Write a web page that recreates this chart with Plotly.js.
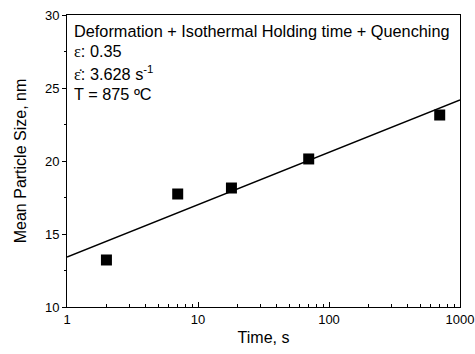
<!DOCTYPE html>
<html>
<head>
<meta charset="utf-8">
<script src="https://cdn.plot.ly/plotly-3.0.1.min.js"></script>
<style>html,body{margin:0;padding:0;background:#fff;}#chart{width:475px;height:354px;}</style>
</head>
<body>
<div id="chart"></div>
<script>
var timeS = [2, 7, 18, 70, 700];
var particleSize = [13.22, 17.74, 18.15, 20.14, 23.15];
var fitTime = [1, 1000];
var fitSize = [13.42, 24.18];
var xTickVals = [1, 10, 100, 1000];
var xTickText = ['1', '10', '100', '1000'];
var xMinorTickVals = [2, 3, 4, 5, 6, 7, 8, 9, 20, 30, 40, 50, 60, 70, 80, 90, 200, 300, 400, 500, 600, 700, 800, 900];
var yTickVals = [10, 15, 20, 25, 30];
var yMinorTickVals = [12.5, 17.5, 22.5, 27.5];
var infoLines = [
  'Deformation + Isothermal Holding time + Quenching',
  '<span style="font-family:Liberation Serif">ε</span>: 0.35',
  '<span style="font-family:Liberation Serif">ε̇</span>: 3.628 s<sup>-1</sup>',
  'T = 875 ºC'
];

var font = {family: 'Liberation Sans, Arial, sans-serif', color: '#000'};

var traces = [
  {x: fitTime, y: fitSize, mode: 'lines', type: 'scatter',
   line: {color: '#000', width: 1.3}, hoverinfo: 'skip', showlegend: false},
  {x: timeS, y: particleSize, mode: 'markers', type: 'scatter',
   marker: {symbol: 'square', size: 11, color: '#000'}, showlegend: false},
  {x: fitTime, y: fitSize, xaxis: 'x2', yaxis: 'y2', mode: 'lines', type: 'scatter',
   line: {width: 0}, opacity: 0, hoverinfo: 'skip', showlegend: false}
];

var annotations = infoLines.map(function (t, i) {
  return {xref: 'paper', yref: 'paper', x: 0.012, y: 1 - (16 + 21 * i) / 292,
          xanchor: 'left', yanchor: 'middle', text: t, showarrow: false,
          font: {family: font.family, size: 16.3, color: '#000'}};
});

var layout = {
  width: 475, height: 354,
  margin: {l: 67, r: 15, t: 15, b: 47},
  paper_bgcolor: '#fff', plot_bgcolor: '#fff',
  font: font,
  xaxis: {
    type: 'log', range: [0, 3],
    tickvals: xTickVals, ticktext: xTickText,
    ticks: 'inside', ticklen: 5, tickwidth: 1, tickcolor: '#000',
    showline: true, linecolor: '#000', linewidth: 1, mirror: true,
    showgrid: false, zeroline: false,
    tickfont: {family: font.family, size: 13, color: '#000'},
    title: {text: 'Time, s', font: {family: font.family, size: 16, color: '#000'}, standoff: 6}
  },
  xaxis2: {
    type: 'log', range: [0, 3], overlaying: 'x', side: 'bottom', anchor: 'y',
    tickmode: 'array', tickvals: xMinorTickVals, showticklabels: false,
    ticks: 'inside', ticklen: 3, tickwidth: 1, tickcolor: '#000',
    showline: false, showgrid: false, zeroline: false
  },
  yaxis: {
    range: [10, 30],
    tickvals: yTickVals,
    ticks: 'outside', ticklen: 4, tickwidth: 1, tickcolor: '#000',
    showline: true, linecolor: '#000', linewidth: 1, mirror: true,
    showgrid: false, zeroline: false,
    tickfont: {family: font.family, size: 13, color: '#000'},
    title: {text: 'Mean Particle Size, nm', font: {family: font.family, size: 16, color: '#000'}, standoff: 14}
  },
  yaxis2: {
    range: [10, 30], overlaying: 'y', side: 'left', anchor: 'x',
    tickmode: 'array', tickvals: yMinorTickVals, showticklabels: false,
    ticks: 'outside', ticklen: 2, tickwidth: 1, tickcolor: '#000',
    showline: false, showgrid: false, zeroline: false
  },
  annotations: annotations
};

Plotly.newPlot('chart', traces, layout, {displayModeBar: false, staticPlot: true});
</script>
</body>
</html>
